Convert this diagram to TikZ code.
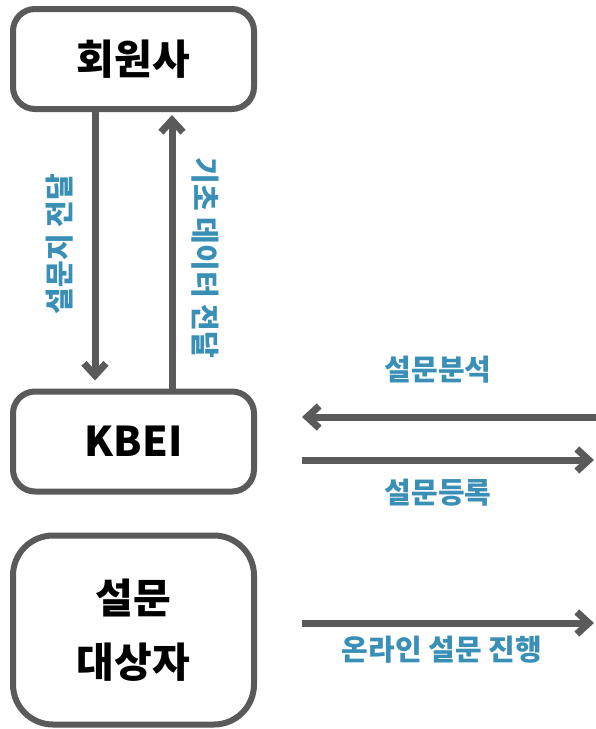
\documentclass[tikz,border=0pt]{standalone}
\usepackage{fontspec}
\newfontfamily\kr{Noto Sans CJK KR}
\usetikzlibrary{arrows.meta}
\definecolor{boxgray}{HTML}{5A5A5A}
\definecolor{lblblue}{HTML}{3A8FB7}

\begin{document}
\begin{tikzpicture}[x=1pt,y=-1pt,
  box/.style={draw=boxgray,line width=6pt,rounded corners=22pt,minimum width=241pt,minimum height=100pt,
    align=center,font=\kr\bfseries\fontsize{41}{64}\selectfont},
  arr/.style={draw=boxgray,line width=7pt,-{Straight Barb[length=12pt,width=22pt]}},
  lbl/.style={text=lblblue,inner sep=0pt,font=\kr\bfseries\fontsize{29}{32}\selectfont}]
  \useasboundingbox (0,0) rectangle (596,729);
  % boxes
  \node[box] (member) at (133.5,59) {회원사};
  \node[box] (kbei) at (133.5,441.5) {KBEI};
  \node[box,minimum height=189pt,rounded corners=40pt] (target) at (133.5,630) {설문\\대상자};
  % member <-> kbei
  \draw[arr,shorten >=8pt]([xshift=-38.5pt]member.south)--([xshift=-38.5pt]kbei.north);
  \draw[arr,shorten >=3pt]([xshift=38.5pt]kbei.north)--([xshift=38.5pt]member.south);
  \node[lbl,rotate=90] (send) at (60,244) {설문지 전달};
  \node[lbl,rotate=-90] (data) at (205,258) {기초 데이터 전달};
  % arrows to the right
  \coordinate (anaR) at (610,417);
  \coordinate (anaL) at (302,417);
  \coordinate (regL) at (302,460);
  \coordinate (regR) at (594,460);
  \coordinate (runL) at (302,623);
  \coordinate (runR) at (594,623);
  \draw[arr](anaR)--(anaL);
  \draw[arr](regL)--(regR);
  \draw[arr](runL)--(runR);
  \node[lbl] (ana) at (438,370) {설문분석};
  \node[lbl] (reg) at (438,493) {설문등록};
  \node[lbl] (run) at (442,650) {온라인 설문 진행};
\end{tikzpicture}
\end{document}
